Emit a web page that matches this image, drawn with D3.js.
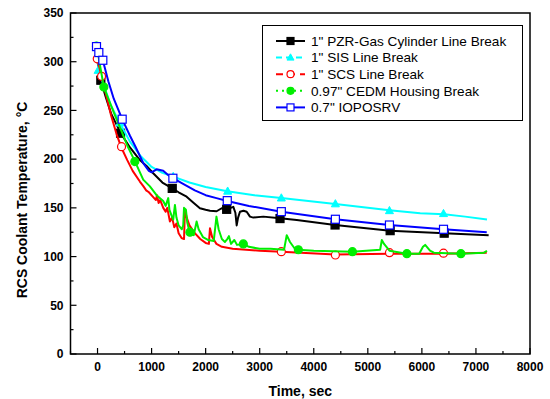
<!DOCTYPE html>
<html lang="en">
<head>
<meta charset="UTF-8">
<title>RCS Coolant Temperature</title>
<style>
  body { margin: 0; padding: 0; background: #ffffff; overflow: hidden; }
  svg { display: block; font-family: Arial, 'Liberation Sans', sans-serif; }
  .tick-label { font-size: 12px; font-weight: bold; fill: #000; }
  .axis-title { font-size: 14px; font-weight: bold; fill: #000; }
  .legend text { font-size: 13.6px; fill: #000; }
  .series { fill: none; stroke-width: 2px; stroke-linejoin: round; }
</style>
</head>
<body>
<div id="chart"></div>
<script src="https://d3js.org/d3.v7.min.js"></script>
<script>
  const width = 550;
  const height = 399;

  // axis ticks
  const xTicks = [0, 1000, 2000, 3000, 4000, 5000, 6000, 7000, 8000];
  const yTicks = [0, 50, 100, 150, 200, 250, 300, 350];

  const seriesNames = [
    '1" PZR-Gas Cylinder Line Break',
    '1" SIS Line Break',
    '1" SCS Line Break',
    '0.97" CEDM Housing Break',
    '0.7" IOPOSRV'
  ];

  // [time (s), temperature (C)]
  const pzrLine = [[-25,316],[0,300],[61,281],[150,264],[250,247],[426,227],[600,212],[783,199],[907,193],
    [1030,185.5],[1200,176],[1382,170],[1500,166],[1648,161.5],[1780,155],[1894,149.6],[2000,148],[2080,147],
    [2203,146.5],[2296,149.6],[2389,148.5],[2512,151],[2550,145],[2574,132],[2600,140],[2635,146],[2700,147],
    [2759,146],[2820,141],[2882,140],[3067,141],[3376,139.3],[3685,137.6],[4394,132.4],[5413,126.6],[6413,124],[7235,122]];
  const pzrMarks = [[61,281],[426,226.6],[1382,170],[2389,148.5],[3376,139],[4394,132.4],[5413,126.6],[6413,124]];

  const sisLine = [[-25,317],[0,305],[24,292],[100,278],[250,255],[413,237],[600,218],[800,203],[1000,192],
    [1200,186],[1400,182],[1700,176],[2000,171.5],[2400,167],[2900,163],[3400,160],[4400,154],[5400,147.5],
    [5969,144.4],[6413,143.5],[6800,141],[7204,138]];
  const sisMarks = [[-20,316],[11,291],[413,237],[1400,182],[2407,167],[3400,160],[4400,154],[5400,147],[6400,144]];

  const scsLine = [[-20,312],[-5,303],[30,295],[75,285],[150,268],[250,245],[350,226],[440,212],[550,199],
    [650,188],[783,177],[850,172],[900,168],[950,166],[1030,161],[1080,158],[1100,163],[1130,155],[1160,158],
    [1216,150],[1260,146],[1290,150],[1339,136],[1380,140],[1420,130],[1460,134],[1500,124],[1555,119],[1600,118],
    [1617,148],[1650,140],[1700,132],[1800,124],[1900,118],[2000,114],[2060,113],[2080,129],[2120,120],[2200,113],
    [2300,110],[2500,108],[3000,106],[3400,105],[4400,102],[5400,103],[6400,103],[7200,104]];
  const scsMarks = [[-5,303],[74,285],[444,212.8],[3400,105],[4400,101.6],[5400,104],[6400,103.5]];

  const cedmLine = [[-30,317],[0,312],[50,295],[117,274],[200,262],[300,248],[413,233],[550,214],[690,198],
    [845,179],[969,172],[1092,163],[1215,157],[1260,152],[1308,160],[1330,148],[1370,142],[1400,138],[1432,153],
    [1460,140],[1500,132],[1560,128],[1585,132],[1600,150],[1635,148],[1660,135],[1709,124],[1780,122],[1833,136],
    [1870,128],[1950,120],[2050,117],[2150,116],[2200,141],[2240,128],[2300,118],[2357,115],[2400,118],[2430,121],
    [2470,113],[2530,117],[2580,112],[2697,113],[2800,110],[3000,108],[3200,108],[3450,107],[3500,122],[3560,115],
    [3650,108],[3715,107],[4000,106],[4715,105],[5228,107],[5259,117],[5300,113],[5400,106],[5722,103],[5950,103],
    [6020,110],[6061,112],[6150,106],[6222,104],[6722,103],[7150,104],[7204,106]];
  const cedmMarks = [[-20,316],[117,274],[690,197.5],[1709,125],[2697,113],[3715,107],[4715,105],[5722,103],[6722,103]];

  const iopLine = [[-25,316],[-19,315.5],[24,309],[98,301.5],[200,280],[300,262],[456,241],[600,224],[700,213],
    [845,196],[950,188],[1000,186.5],[1093,189.6],[1215,188],[1300,184],[1394,180.4],[1600,174],[1800,168],
    [2000,163],[2200,160],[2400,157],[2800,152],[3400,146],[4400,138.3],[5400,132.4],[6400,128],[7200,125]];
  const iopMarks = [[-19,315.5],[24,309.4],[98,301.5],[456,241],[1394,180.4],[2400,157.4],[3400,146.1],
    [4400,138.3],[5400,132.4],[6400,128]];

  const series = [
    { name: seriesNames[0], line: pzrLine, marks: pzrMarks, color: '#000000', symbol: 'square', fill: true, dash: null },
    { name: seriesNames[1], line: sisLine, marks: sisMarks, color: '#00ffff', symbol: 'triangle', fill: true, dash: '6,4' },
    { name: seriesNames[2], line: scsLine, marks: scsMarks, color: '#ff0000', symbol: 'circle', fill: false, dash: '7,5' },
    { name: seriesNames[3], line: cedmLine, marks: cedmMarks, color: '#00ee00', symbol: 'circle', fill: true, dash: '2,4' },
    { name: seriesNames[4], line: iopLine, marks: iopMarks, color: '#0000ff', symbol: 'square', fill: false, dash: null }
  ];

  const plotLeft = 70.5, plotRight = 530, plotTop = 13, plotBottom = 354;

  const x = d3.scaleLinear().domain([-500, 8000]).range([plotLeft, plotRight]);
  const y = d3.scaleLinear().domain([0, 350]).range([plotBottom, plotTop]);

  const svg = d3.select('#chart').append('svg')
    .attr('width', width)
    .attr('height', height);

  // frame
  svg.append('rect')
    .attr('x', plotLeft).attr('y', plotTop)
    .attr('width', plotRight - plotLeft).attr('height', plotBottom - plotTop)
    .attr('fill', 'none').attr('stroke', '#000').attr('stroke-width', 1.5);

  // x ticks (inward)
  const xMinor = d3.range(-500, 8001, 500);
  svg.append('g').selectAll('line').data(xMinor).enter().append('line')
    .attr('x1', d => x(d)).attr('x2', d => x(d))
    .attr('y1', plotBottom).attr('y2', d => plotBottom - (d % 1000 === 0 ? 6 : 3))
    .attr('stroke', '#000').attr('stroke-width', 1.2);
  svg.append('g').selectAll('text').data(xTicks).enter().append('text')
    .attr('class', 'tick-label')
    .attr('x', d => x(d)).attr('y', plotBottom + 16.5)
    .attr('text-anchor', 'middle')
    .text(d => d);

  // y ticks (inward)
  const yMinor = d3.range(0, 351, 25);
  svg.append('g').selectAll('line').data(yMinor).enter().append('line')
    .attr('x1', plotLeft).attr('x2', d => plotLeft + (d % 50 === 0 ? 6 : 3))
    .attr('y1', d => y(d)).attr('y2', d => y(d))
    .attr('stroke', '#000').attr('stroke-width', 1.2);
  svg.append('g').selectAll('text').data(yTicks).enter().append('text')
    .attr('class', 'tick-label')
    .attr('x', plotLeft - 7).attr('y', d => y(d) + 4.3)
    .attr('text-anchor', 'end')
    .text(d => d);

  // axis titles
  svg.append('text').attr('class', 'axis-title')
    .attr('x', (plotLeft + plotRight) / 2).attr('y', 396)
    .attr('text-anchor', 'middle')
    .text('Time, sec');
  svg.append('text').attr('class', 'axis-title')
    .attr('transform', 'translate(27,200) rotate(-90)')
    .attr('text-anchor', 'middle')
    .text('RCS Coolant Temperature, \u00B0C');

  const line = d3.line().x(d => x(d[0])).y(d => y(d[1]));

  function drawSymbol(g, s, cx, cy, size) {
    const fill = s.fill ? s.color : '#ffffff';
    if (s.symbol === 'square') {
      g.append('rect')
        .attr('x', cx - size / 2).attr('y', cy - size / 2)
        .attr('width', size).attr('height', size)
        .attr('fill', fill).attr('stroke', s.color).attr('stroke-width', 1.2);
    } else if (s.symbol === 'circle') {
      g.append('circle')
        .attr('cx', cx).attr('cy', cy).attr('r', size / 2)
        .attr('fill', fill).attr('stroke', s.color).attr('stroke-width', 1.2);
    } else {
      const h = size * 0.9;
      g.append('path')
        .attr('d', `M${cx},${cy - h * 0.6}L${cx + size / 2},${cy + h * 0.4}L${cx - size / 2},${cy + h * 0.4}Z`)
        .attr('fill', fill).attr('stroke', s.color).attr('stroke-width', 1);
    }
  }

  const plot = svg.append('g');
  series.forEach(s => {
    plot.append('path')
      .attr('class', 'series')
      .attr('d', line(s.line))
      .attr('stroke', s.color);
    const mg = plot.append('g');
    s.marks.forEach(m => drawSymbol(mg, s, x(m[0]), y(m[1]), 8));
  });

  // legend
  const legend = svg.append('g').attr('class', 'legend');
  legend.append('rect')
    .attr('x', 262.5).attr('y', 25.5).attr('width', 260).attr('height', 95)
    .attr('fill', '#fff').attr('stroke', '#000').attr('stroke-width', 1);
  series.forEach((s, i) => {
    const ly = 41 + i * 16.6;
    legend.append('line')
      .attr('x1', 276).attr('x2', 305).attr('y1', ly).attr('y2', ly)
      .attr('stroke', s.color).attr('stroke-width', 2)
      .attr('stroke-dasharray', s.dash);
    drawSymbol(legend, s, 290.5, ly, 7);
    legend.append('text')
      .attr('x', 311).attr('y', ly + 4.8)
      .text(s.name);
  });
</script>
</body>
</html>
